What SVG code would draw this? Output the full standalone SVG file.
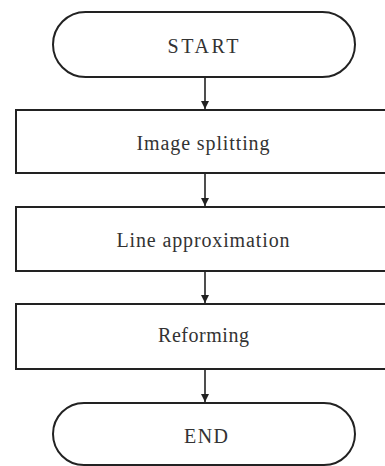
<svg xmlns="http://www.w3.org/2000/svg" width="385" height="466" viewBox="0 0 385 466">
<style>
.box{fill:#fff;stroke:#222;stroke-width:2}
.t{font-family:"Liberation Serif","Times New Roman",serif;font-size:20px;fill:#333;text-anchor:middle}
.c{stroke:#222;stroke-width:1.6;fill:none}
</style>
<defs>
<marker id="ah" viewBox="0 0 8 10" refX="8" refY="5" markerWidth="8" markerHeight="10" markerUnits="userSpaceOnUse" orient="auto">
<path d="M0,1 L8,5 L0,9 Z" fill="#222"/>
</marker>
</defs>
<rect width="385" height="466" fill="#fff"/>
<g id="connectors">
<line class="c" x1="205" y1="77" x2="205" y2="109" marker-end="url(#ah)"/>
<line class="c" x1="205" y1="173" x2="205" y2="206" marker-end="url(#ah)"/>
<line class="c" x1="205" y1="271" x2="205" y2="303" marker-end="url(#ah)"/>
<line class="c" x1="205" y1="369" x2="205" y2="402" marker-end="url(#ah)"/>
</g>
<g id="start">
<rect class="box" x="53" y="12" width="302" height="65" rx="32.5"/>
<text class="t" x="203" y="53" textLength="71" lengthAdjust="spacing">START</text>
</g>
<g id="split">
<rect class="box" x="16" y="110" width="380" height="63"/>
<text class="t" x="203" y="150" textLength="133" lengthAdjust="spacing">Image splitting</text>
</g>
<g id="approx">
<rect class="box" x="16" y="207" width="380" height="64"/>
<text class="t" x="203" y="247" textLength="173" lengthAdjust="spacing">Line approximation</text>
</g>
<g id="reform">
<rect class="box" x="16" y="304" width="380" height="65"/>
<text class="t" x="203.5" y="342" textLength="91" lengthAdjust="spacing">Reforming</text>
</g>
<g id="end">
<rect class="box" x="53" y="403" width="302" height="62" rx="31"/>
<text class="t" x="206" y="443" textLength="44" lengthAdjust="spacing">END</text>
</g>
</svg>
